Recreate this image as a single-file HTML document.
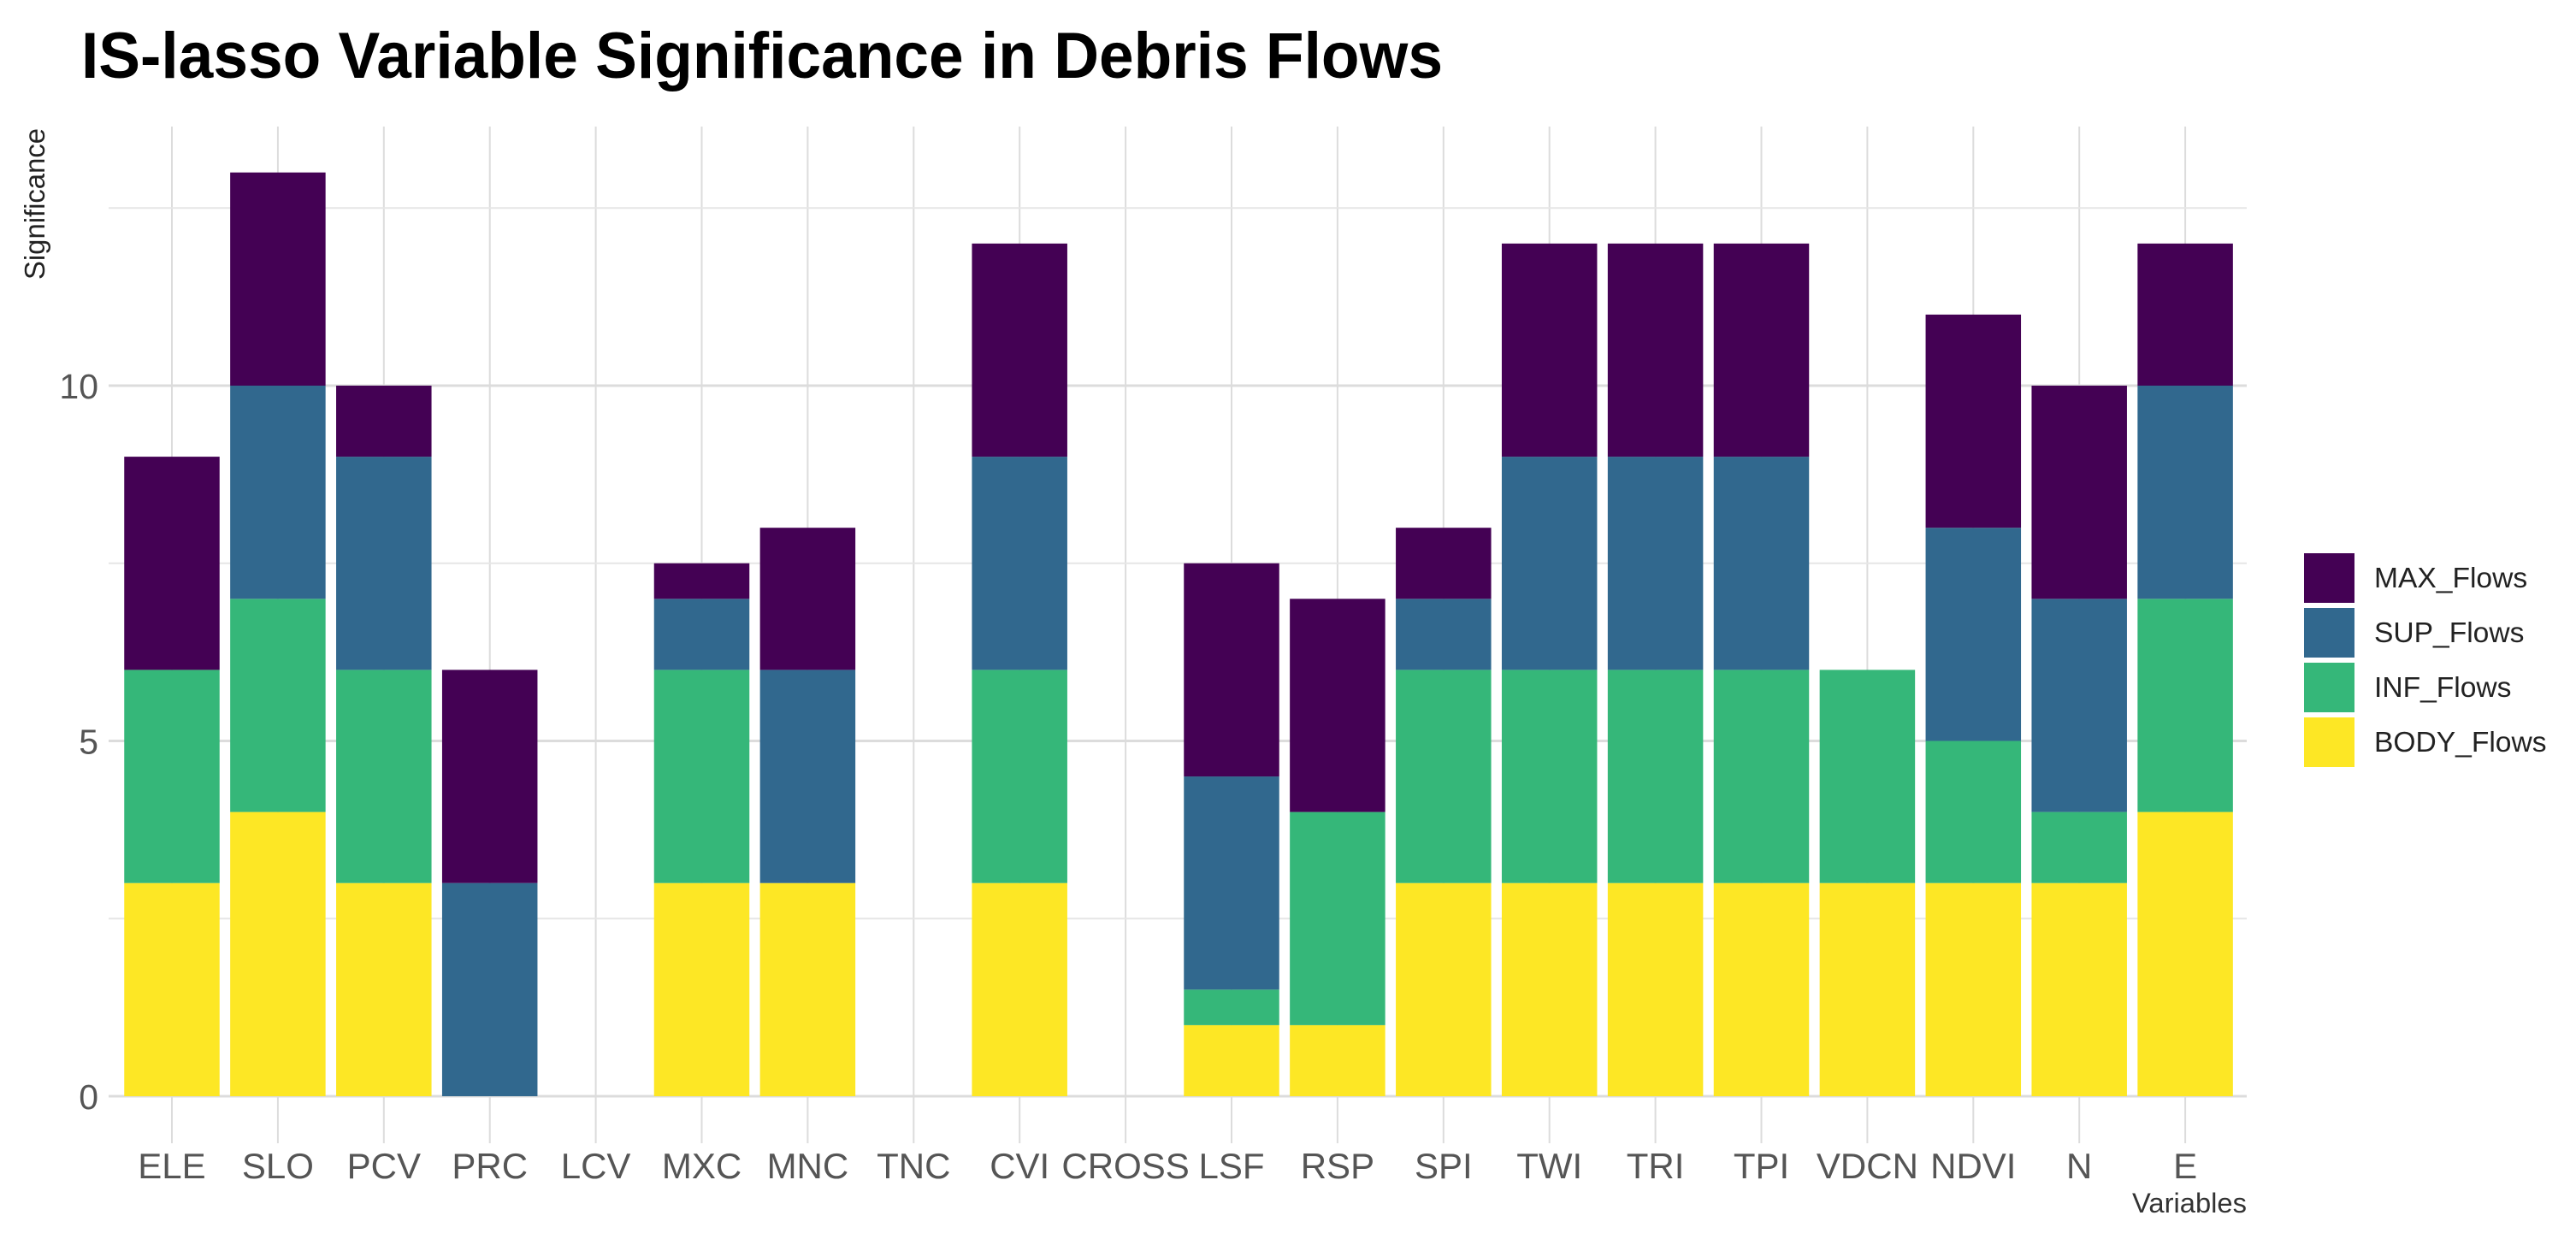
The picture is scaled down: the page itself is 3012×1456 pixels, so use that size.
<!DOCTYPE html>
<html lang="en">
<head>
<meta charset="utf-8">
<title>IS-lasso Variable Significance in Debris Flows</title>
<style>
html,body{margin:0;padding:0;background:#fff;}
svg{display:block;font-family:"Liberation Sans",sans-serif;}
</style>
</head>
<body>
<svg id="chart" xmlns="http://www.w3.org/2000/svg" width="3012" height="1456" viewBox="0 0 3012 1456">
  <rect x="0" y="0" width="3012" height="1456" fill="#ffffff"/>
  <text x="95" y="91" font-size="76" font-weight="700" fill="#000" textLength="1592" lengthAdjust="spacingAndGlyphs">IS-lasso Variable Significance in Debris Flows</text>
  <text transform="translate(52,327) rotate(-90)" font-size="33" fill="#222" textLength="177" lengthAdjust="spacingAndGlyphs">Significance</text>
  <text x="2627" y="1418" text-anchor="end" font-size="32" fill="#333" textLength="134" lengthAdjust="spacingAndGlyphs">Variables</text>
  <g id="grid"></g>
  <g id="bars"></g>
  <g id="yticks"></g>
  <g id="xticks"></g>
  <g id="legend"></g>
</svg>
<script>
const categories = ["ELE","SLO","PCV","PRC","LCV","MXC","MNC","TNC","CVI","CROSS","LSF","RSP","SPI","TWI","TRI","TPI","VDCN","NDVI","N","E"];
const bodyFlows = [3,4,3,0,0,3,3,0,3,0,1,1,3,3,3,3,3,3,3,4];
const infFlows  = [3,3,3,0,0,3,0,0,3,0,0.5,3,3,3,3,3,3,2,1,3];
const supFlows  = [0,3,3,3,0,1,3,0,3,0,3,0,1,3,3,3,0,3,3,3];
const maxFlows  = [3,3,1,3,0,0.5,2,0,3,0,3,3,1,3,3,3,0,3,3,2];
const majorTicks = [0,5,10];
const minorTicks = [2.5,7.5,12.5];
const legendLabels = ["MAX_Flows","SUP_Flows","INF_Flows","BODY_Flows"];

const NS = "http://www.w3.org/2000/svg";
const plotLeft = 127, plotRight = 2627, plotTop = 148, plotBottom = 1337;
const xFirst = 201, xStep = 123.9, barWidth = 111.5;
const yZero = 1282, yUnit = 83.1;
const xScale = i => xFirst + i * xStep;
const yScale = v => yZero - v * yUnit;

function make(tag, attrs, parent, text) {
  const el = document.createElementNS(NS, tag);
  for (const k in attrs) el.setAttribute(k, attrs[k]);
  if (text !== undefined) el.textContent = text;
  parent.appendChild(el);
  return el;
}

const grid = document.getElementById("grid");
categories.forEach((c, i) => {
  const line = make("line", {x1: xScale(i), x2: xScale(i), y1: plotTop, y2: plotBottom, stroke: "#dcdcdc", "stroke-width": 2}, grid);
  
  
});
minorTicks.forEach(v => {
  const line = make("line", {x1: plotLeft, x2: plotRight, y1: yScale(v), y2: yScale(v), stroke: "#e6e6e6", "stroke-width": 2}, grid);
  
  
});
majorTicks.forEach(v => {
  const line = make("line", {x1: plotLeft, x2: plotRight, y1: yScale(v), y2: yScale(v), stroke: "#dcdcdc", "stroke-width": 3}, grid);
  
  
});

const seriesStack = [
  {key: "body", values: bodyFlows, color: "#FDE725"},
  {key: "inf",  values: infFlows,  color: "#35B779"},
  {key: "sup",  values: supFlows,  color: "#31688E"},
  {key: "max",  values: maxFlows,  color: "#440154"}
];
const bars = document.getElementById("bars");
categories.forEach((c, i) => {
  let base = 0;
  seriesStack.forEach(s => {
    const v = s.values[i];
    if (v > 0) {
      const r = make("rect", {
        x: xScale(i) - barWidth / 2,
        y: yScale(base + v),
        width: barWidth,
        height: yScale(base) - yScale(base + v),
        fill: s.color
      }, bars);
      
      
    }
    base += v;
  });
});

const yticks = document.getElementById("yticks");
majorTicks.forEach(v => {
  const t = make("text", {x: 115, y: yScale(v) + 15, "text-anchor": "end", "font-size": 41, fill: "#555"}, yticks, String(v));
  
  
});

const xticks = document.getElementById("xticks");
categories.forEach((c, i) => {
  const t = make("text", {x: xScale(i), y: 1378, "text-anchor": "middle", "font-size": 42, fill: "#555"}, xticks, c);
  
  
});

const legend = document.getElementById("legend");
const legendColors = ["#440154","#31688E","#35B779","#FDE725"];
legendLabels.forEach((label, i) => {
  const top = 647 + i * 64;
  const sw = make("rect", {x: 2694, y: top, width: 59, height: 58, fill: legendColors[i]}, legend);
  
  
  const t = make("text", {x: 2776, y: top + 40, "font-size": 33.6, fill: "#222"}, legend, label);
  
  
});
</script>
</body>
</html>
